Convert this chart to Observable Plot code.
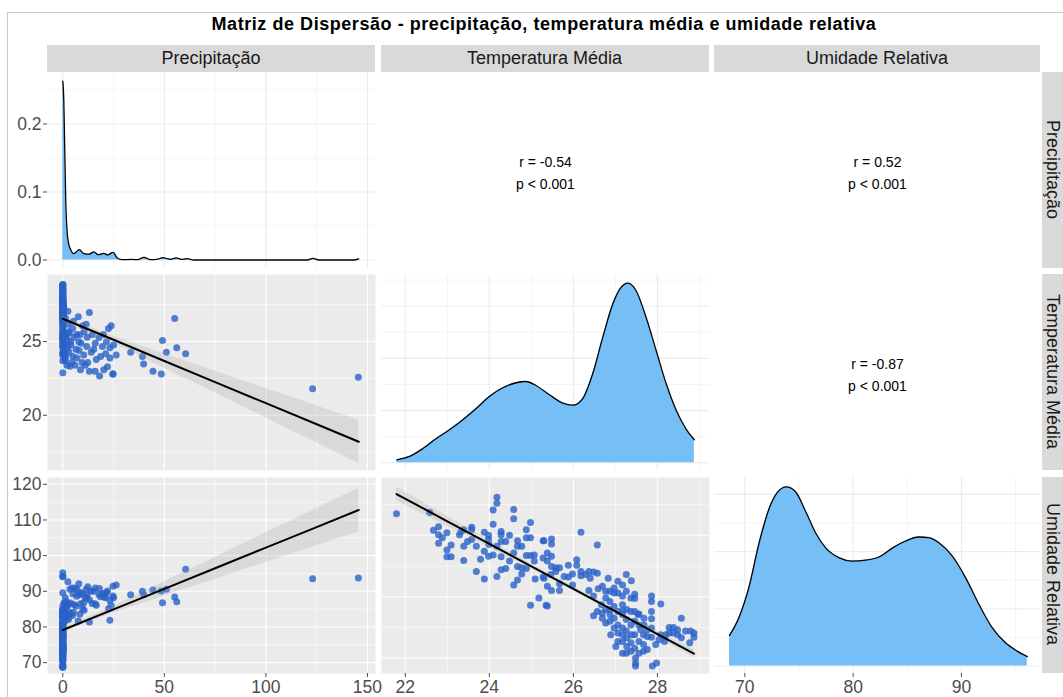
<!DOCTYPE html>
<html><head><meta charset="utf-8">
<script src="https://cdn.jsdelivr.net/npm/d3@7"></script>
<script src="https://cdn.jsdelivr.net/npm/@observablehq/plot@0.6"></script>
<style>
body{margin:0;background:#fff;font-family:Arial,"Liberation Sans",sans-serif;}
#fig{position:relative;width:1063px;height:697px;overflow:hidden;background:#fff;}
.strip{position:absolute;background:#D9D9D9;color:#1A1A1A;font-size:18px;display:flex;align-items:center;justify-content:center;white-space:nowrap;}
.vstrip{writing-mode:vertical-rl;}
#title{position:absolute;left:47px;width:994px;top:12px;text-align:center;font-weight:bold;font-size:18px;letter-spacing:0.55px;color:#000;line-height:24px;}
#border{position:absolute;left:7px;top:12px;width:1200px;height:800px;border-left:1px solid #C8C8C8;border-top:1px solid #C8C8C8;}
</style></head><body><div id="fig"><div id="border"></div></div>
<script>
// ---------------- data ----------------
const variables = ["Precipitação", "Temperatura Média", "Umidade Relativa"];
const chartTitle = "Matriz de Dispersão - precipitação, temperatura média e umidade relativa";

// days with rain: [precipitação, temperatura, umidade]
const rainyDays = [
[123.0,21.79,93.5],[145.5,22.58,93.7],[60.5,24.18,96.2],[56.1,24.58,87.1],[55.1,26.57,88.4],
[51.0,24.28,90.6],[49.1,25.07,86.8],[48.5,22.79,90.1],[44.4,22.99,90.4],[39.8,23.48,89.0],
[39.2,23.98,90.0],[33.4,24.28,89.0],[18.1,22.67,90.8],[24.7,22.79,91.4],[24.7,22.79,88.7],
[13.1,22.99,87.6],[20.2,23.09,88.4],[15.9,22.99,86.5],[8.7,23.09,86.5],[22.0,23.29,90.1],
[3.5,23.33,90.6],[6.0,23.39,90.9],[11.0,23.39,88.2],[2.0,23.39,85.9],[12.3,23.58,91.3],
[4.5,23.58,90.9],[9.5,23.58,89.3],[1.2,23.69,88.2],[16.5,23.79,86.1],[7.0,23.88,90.5],
[23.2,23.88,87.4],[1.3,23.88,82.9],[5.0,23.98,89.3],[0.8,23.98,86.6],[18.6,23.99,88.5],
[26.3,24.09,91.8],[10.3,24.09,86.8],[21.1,24.18,88.2],[1.5,24.18,83.3],[14.0,24.28,90.1],
[3.0,24.28,86.5],[8.0,24.39,89.0],[0.5,24.39,84.6],[15.2,24.48,90.0],[6.5,24.48,85.8],
[2.5,24.58,92.7],[23.2,24.58,81.9],[19.5,24.67,89.1],[11.8,24.67,88.2],[1.0,24.67,82.7],
[25.0,24.77,88.2],[4.0,24.77,83.7],[16.0,24.88,90.9],[9.0,24.88,89.6],[0.6,24.88,86.7],
[7.9,24.98,92.1],[21.5,24.98,89.6],[3.8,24.98,86.7],[2.2,25.07,85.8],[17.8,25.28,89.1],
[5.5,25.28,86.3],[12.0,25.30,89.1],[20.0,25.48,89.4],[6.8,25.48,88.6],[1.8,25.38,87.1],
[14.5,25.48,86.6],[0.7,25.48,84.9],[3.2,25.58,84.1],[10.5,25.67,84.7],[1.1,25.38,81.7],
[2.8,25.67,82.1],[22.5,25.88,85.1],[4.8,25.88,83.2],[23.8,26.08,86.0],[9.8,26.08,85.1],
[11.5,26.18,90.5],[2.6,26.18,83.4],[5.2,26.37,84.1],[1.4,26.57,83.8],[8.4,25.46,83.6],
[7.6,26.69,81.7],[13.1,26.97,81.4],[2.5,27.06,82.5]
];

// dry days (precipitação = 0): [temperatura, umidade]
const dryDays = [
[22.88,89.6],[23.69,84.1],[24.09,94.1],[24.18,95.2],[24.28,84.4],[24.58,94.2],[24.67,84.9],
[24.77,84.7],[24.88,84.6],[24.98,78.6],[25.09,82.9],[25.18,79.8],[25.28,83.2],[25.35,78.6],
[25.38,85.8],[25.58,84.7],[25.30,83.0],[25.48,81.0],[25.67,81.0],[25.38,78.5],[25.98,83.7],
[26.18,84.1],[25.98,81.9],[26.48,84.0],[25.78,83.3],[26.29,83.6],[26.40,83.0],[26.83,83.0],
[26.37,81.0],[26.48,80.1],[26.59,81.3],[26.48,76.9],[26.77,80.9],[26.77,79.8],[26.87,80.9],
[26.87,79.2],[27.06,80.6],[27.17,81.9],[27.26,83.6],[27.38,82.6],[27.26,80.9],[27.46,80.4],
[27.46,79.7],[26.69,77.3],[26.69,76.5],[26.77,77.9],[26.87,77.1],[26.87,76.0],[26.97,78.4],
[27.06,77.6],[27.06,75.4],[27.17,78.7],[27.17,77.1],[27.17,74.9],[27.26,76.3],[27.26,74.4],
[27.37,77.6],[27.37,75.4],[27.46,73.8],[27.46,77.6],[27.56,77.2],[27.56,75.4],[27.67,73.8],
[27.68,75.4],[27.76,73.5],[27.76,71.4],[27.86,80.1],[27.86,79.2],[27.86,77.6],[27.86,76.4],
[27.86,74.9],[27.86,73.4],[27.96,72.2],[28.08,78.8],[28.08,73.8],[28.17,73.3],[28.17,72.7],
[28.28,75.0],[28.28,74.1],[28.38,75.0],[28.38,74.1],[28.48,74.6],[28.57,76.5],[28.57,73.3],
[28.67,74.4],[28.77,72.5],[28.87,74.1],[28.87,73.4],[27.01,71.9],[27.17,72.7],[27.17,70.8],
[27.26,70.8],[27.37,72.5],[27.37,71.1],[27.46,71.6],[27.48,70.0],[27.48,69.2],[27.48,68.7],
[27.56,70.8],[27.67,71.1],[27.88,68.7],[27.98,69.2],[26.89,73.8],[27.06,74.1],[26.97,74.9],
[27.27,73.3],[27.56,72.7],[27.67,72.2],[27.27,71.9],[27.76,74.6],[27.38,73.8],[27.06,72.7],
[27.17,73.8],[26.57,77.6],[26.67,78.7],[26.77,75.7],[26.87,77.9],[26.97,76.5],[27.17,77.7],
[27.27,77.9],[27.46,76.0],[27.60,74.6],[27.68,76.5],[28.04,73.0],[28.48,73.8],[28.79,74.4],
[28.20,73.8],[26.97,80.6],[27.17,80.1],[27.37,79.8],[27.54,77.1]
];

// density curves on the diagonal: [valor, densidade]
const densPrecip = [[0,0.263],[0.5,0.234],[1.0,0.156],[1.5,0.082],[2.0,0.048],[2.6,0.028],[3.8,0.0157],
[5.4,0.0093],[8.2,0.0152],[10.3,0.0093],[12.8,0.0085],[15.3,0.0118],[17.4,0.0078],[20.2,0.0098],
[22.1,0.0074],[24.8,0.0113],[26.7,0.0034],[29.2,0.0005],[34.1,0.0008],[37.0,0.0005],[39.9,0.004],
[43.2,0.0005],[46.5,0.001],[49.2,0.0034],[53.0,0.001],[55.8,0.003],[58.5,0.0008],[61.2,0.002],
[64.5,0],[80,0],[100,0],[120.5,0],[123.2,0.0025],[126,0],[143.3,0],[145.7,0.0017]];
const densTemp = [[21.80,0.0057],[22.10,0.0121],[22.41,0.0268],[22.73,0.046],[23.05,0.0632],[23.37,0.0824],
[23.68,0.1034],[24.00,0.127],[24.32,0.1437],[24.64,0.1533],[24.87,0.1557],[25.11,0.1481],[25.43,0.1303],
[25.75,0.1142],[25.99,0.1103],[26.22,0.1226],[26.46,0.1705],[26.70,0.2406],[26.94,0.3046],[27.14,0.3364],
[27.30,0.3441],[27.49,0.3301],[27.73,0.2789],[27.97,0.2151],[28.21,0.1513],[28.45,0.1002],[28.68,0.0651],
[28.88,0.0441]];
const densHum = [[68.59,0.0107],[69.45,0.0169],[70.37,0.0274],[71.29,0.0426],[72.22,0.0548],[72.99,0.0606],
[73.85,0.0626],[74.68,0.0609],[75.60,0.0542],[76.53,0.0466],[77.45,0.0414],[78.68,0.0379],[79.92,0.0367],
[81.15,0.037],[82.38,0.0381],[83.61,0.0412],[84.84,0.0437],[86.07,0.0451],[86.99,0.0449],[87.92,0.0431],
[89.15,0.0385],[90.38,0.0309],[91.61,0.0216],[92.84,0.0134],[94.07,0.0081],[95.15,0.0052],[96.08,0.0033]];

// fitted regression lines with confidence bands: [x, ajuste, inferior, superior]
const fitPT = [[0,26.55,26.38,26.72],[25,25.12,24.86,25.38],[50,23.68,23.19,24.17],[75,22.25,21.51,22.99],
[100,20.82,19.82,21.82],[125,19.39,18.13,20.65],[145.7,18.2,16.72,19.68]];
const fitPH = [[0,79.15,78.5,79.8],[25,84.92,83.9,85.9],[50,90.7,88.7,92.7],[75,96.47,93.4,99.5],
[100,102.25,98.1,106.4],[125,108.0,102.75,113.25],[145.7,112.8,106.6,118.9]];
const fitTH = [[21.79,96.72,95.6,97.85],[23,92.28,91.45,93.1],[24,88.6,88.0,89.2],[25,84.93,84.5,85.36],
[26,81.26,80.9,81.62],[27,77.59,77.2,77.98],[28,73.91,73.4,74.42],[28.87,70.72,70.05,71.4]];

// correlation labels in the upper panels
const corrLabels = [
  {row:0, col:1, r:"r = -0.54", p:"p < 0.001"},
  {row:0, col:2, r:"r = 0.52",  p:"p < 0.001"},
  {row:1, col:2, r:"r = -0.87", p:"p < 0.001"}
];

// tick labels
const ticksPrecip = [0, 50, 100, 150];
const ticksTemp = [22, 24, 26, 28];
const ticksHumX = [70, 80, 90];
const ticksDensP = [0, 0.1, 0.2];
const ticksTempY = [20, 25];
const ticksHumY = [70, 80, 90, 100, 110, 120];

// ---------------- build ----------------
const obs = rainyDays.map(([P,T,H]) => ({P,T,H})).concat(dryDays.map(([T,H]) => ({P:0,T,H})));
const fig = document.getElementById("fig");

const colX = [47, 380.5, 714], colW = [328, 328, 326];
const rowY = [71.5, 274, 476.5], rowH = 196;
const stripH = 27;

// domains (panel extents, as in the reference)
const domP = [-7.53, 153.96], domT = [21.433, 29.24], domH = [67.2, 97.3];
const font = "Arial, 'Liberation Sans', sans-serif";
const GREY = "#EBEBEB";
const TICK_FS = 17.5;

function within(ticks, dom){ const a = Math.min(...dom), b = Math.max(...dom); return ticks.filter(t => t >= a && t <= b); }
function range(a, b, s){ const out = []; for (let v = a; v <= b + 1e-9; v += s) out.push(+v.toFixed(4)); return out; }

function panel(o){
  const ml = o.axisLeft ? 47 : 0;
  const mb = o.axisBottom ? 24.5 : 0;
  const marks = [];
  if (o.bg) marks.push(Plot.frame({fill: o.bg, stroke: "none"}));
  if (o.grid) {
    const g = o.grid;
    marks.push(Plot.ruleX(within(o.xMinor, o.xDomain), {stroke: g, strokeWidth: 0.55}));
    marks.push(Plot.ruleY(within(o.yMinor, o.yDomain), {stroke: g, strokeWidth: 0.55}));
    marks.push(Plot.ruleX(within(o.xMajor, o.xDomain), {stroke: g, strokeWidth: 1.1}));
    marks.push(Plot.ruleY(within(o.yMajor, o.yDomain), {stroke: g, strokeWidth: 1.1}));
  }
  marks.push(...(o.marks || []));
  if (o.axisLeft) marks.push(Plot.axisY(o.axisLeft, {anchor: "left", tickSize: 4, tickPadding: 2, fontSize: TICK_FS, color: "#4D4D4D", label: null, tickFormat: o.yFormat}));
  if (o.axisBottom) marks.push(Plot.axisX(o.axisBottom, {anchor: "bottom", tickSize: 4, tickPadding: 3, fontSize: TICK_FS, color: "#4D4D4D", label: null}));
  const xs = {domain: o.xDomain || [0,1]}; if (!o.axisBottom) xs.axis = null;
  const ys = {domain: o.yDomain || [0,1]}; if (!o.axisLeft) ys.axis = null;
  const svg = Plot.plot({
    width: o.w + ml, height: rowH + mb,
    marginLeft: ml, marginBottom: mb, marginTop: 0, marginRight: 0,
    x: xs, y: ys,
    style: {fontFamily: font, background: "transparent", overflow: "visible"},
    marks
  });
  svg.style.position = "absolute";
  svg.style.left = (o.x - ml) + "px";
  svg.style.top = o.y + "px";
  svg.style.overflow = "visible";
  fig.appendChild(svg);
}

const dotOpts = {r: 3.5, fill: "#2962C8", fillOpacity: 0.8, stroke: "none"};
function fitMarks(fit){
  return [
    Plot.areaY(fit, {x: d => d[0], y1: d => d[2], y2: d => d[3], fill: "#999999", fillOpacity: 0.22, curve: "monotone-x"}),
    Plot.lineY(fit, {x: d => d[0], y: d => d[1], stroke: "#000", strokeWidth: 2})
  ];
}
function densMarks(dens){
  return [
    Plot.areaY(dens, {x: d => d[0], y: d => d[1], fill: "#75BEF6", curve: "monotone-x"}),
    Plot.lineY(dens, {x: d => d[0], y: d => d[1], stroke: "#000", strokeWidth: 1.3, curve: "monotone-x"})
  ];
}

// Row 1
panel({x: colX[0], y: rowY[0], w: colW[0], xDomain: domP, yDomain: [-0.0125, 0.2757], grid: GREY,
  xMajor: [0,50,100,150], xMinor: [25,75,125], yMajor: [0,0.1,0.2], yMinor: [0.05,0.15,0.25],
  marks: densMarks(densPrecip), axisLeft: ticksDensP, yFormat: d3.format(".1f")});
// Row 2
panel({x: colX[0], y: rowY[1], w: colW[0], xDomain: domP, yDomain: [16.25, 29.55], bg: GREY, grid: "#FFFFFF",
  xMajor: [0,50,100,150], xMinor: [25,75,125], yMajor: [20,25], yMinor: [17.5,22.5,27.5],
  marks: [Plot.dot(obs, {...dotOpts, x: "P", y: "T"}), ...fitMarks(fitPT)], axisLeft: ticksTempY});
panel({x: colX[1], y: rowY[1], w: colW[1], xDomain: domT, yDomain: [-0.0148, 0.3607], grid: GREY,
  xMajor: [22,24,26,28], xMinor: [23,25,27,29], yMajor: [0,0.1,0.2,0.3], yMinor: [0.05,0.15,0.25,0.35],
  marks: densMarks(densTemp)});
// Row 3
panel({x: colX[0], y: rowY[2], w: colW[0], xDomain: domP, yDomain: [66.96, 121.9], bg: GREY, grid: "#FFFFFF",
  xMajor: [0,50,100,150], xMinor: [25,75,125], yMajor: range(70,120,10), yMinor: range(75,115,10),
  marks: [Plot.dot(obs, {...dotOpts, x: "P", y: "H"}), ...fitMarks(fitPH)], axisLeft: ticksHumY, axisBottom: ticksPrecip});
panel({x: colX[1], y: rowY[2], w: colW[1], xDomain: domT, yDomain: [67.49, 99.41], bg: GREY, grid: "#FFFFFF",
  xMajor: [22,24,26,28], xMinor: [23,25,27,29], yMajor: [70,80,90], yMinor: [75,85,95],
  marks: [Plot.dot(obs, {...dotOpts, x: "T", y: "H"}), ...fitMarks(fitTH)], axisBottom: ticksTemp});
panel({x: colX[2], y: rowY[2], w: colW[2], xDomain: domH, yDomain: [-0.00262, 0.0659], grid: GREY,
  xMajor: [70,80,90], xMinor: [75,85,95], yMajor: [0,0.02,0.04,0.06], yMinor: [0.01,0.03,0.05],
  marks: densMarks(densHum), axisBottom: ticksHumX});
// Upper triangle: correlation text
for (const c of corrLabels) {
  panel({x: colX[c.col], y: rowY[c.row], w: colW[c.col],
    marks: [Plot.text([c], {text: d => d.r + "\n" + d.p, frameAnchor: "middle", fontSize: 14, lineHeight: 1.57, fill: "#000"})]});
}

// Title and strips
const t = document.createElement("div"); t.id = "title"; t.textContent = chartTitle; fig.appendChild(t);
variables.forEach((v, i) => {
  const s = document.createElement("div"); s.className = "strip"; s.textContent = v;
  s.style.left = colX[i] + "px"; s.style.top = (rowY[0] - stripH) + "px";
  s.style.width = colW[i] + "px"; s.style.height = stripH + "px";
  fig.appendChild(s);
  const r = document.createElement("div"); r.className = "strip vstrip"; r.textContent = v;
  r.style.left = "1042px"; r.style.top = rowY[i] + "px";
  r.style.width = "21px"; r.style.height = rowH + "px";
  fig.appendChild(r);
});
</script></body></html>
